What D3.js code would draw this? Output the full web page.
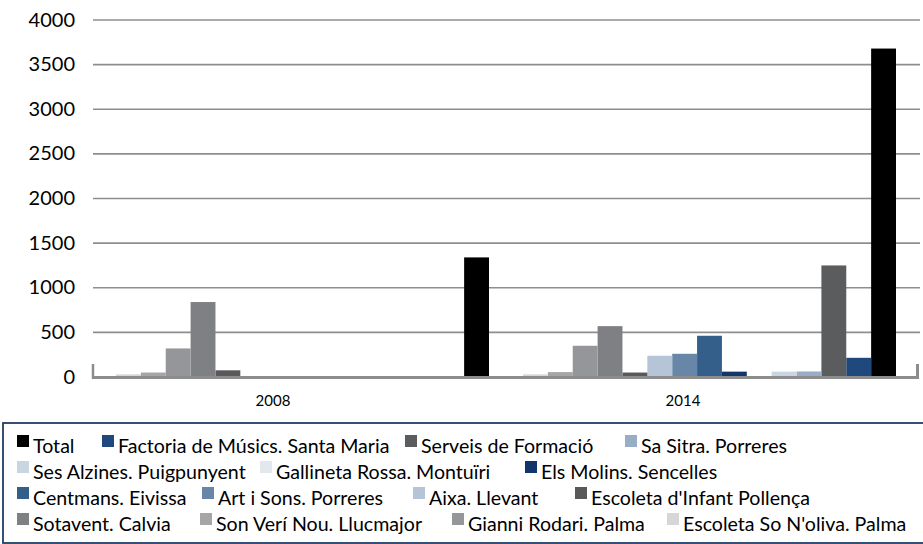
<!DOCTYPE html>
<html>
<head>
<meta charset="utf-8">
<script src="https://cdn.jsdelivr.net/npm/d3@7"></script>
<style>
  html, body { margin: 0; padding: 0; background: #fff; }
  svg { display: block; font-family: Lato, "Open Sans", sans-serif; }
</style>
</head>
<body>
<svg id="chart" width="923" height="544"></svg>
<script>
// ---- data ----
const categories = ["2008", "2014"];
const seriesNames = [
  "Total", "Factoria de Músics. Santa Maria", "Serveis de Formació", "Sa Sitra. Porreres",
  "Ses Alzines. Puigpunyent", "Gallineta Rossa. Montuïri", "Els Molins. Sencelles",
  "Centmans. Eivissa", "Art i Sons. Porreres", "Aixa. Llevant", "Escoleta d'Infant Pollença",
  "Sotavent. Calvia", "Son Verí Nou. Llucmajor", "Gianni Rodari. Palma", "Escoleta So N'oliva. Palma"
];
const values2008 = [1340, 0, 0, 0, 0, 0, 0, 0, 0, 0, 75, 840, 50, 320, 30];
const values2014 = [3680, 215, 1250, 62, 60, 0, 60, 462, 260, 238, 50, 570, 55, 350, 30];
const yTicks = [0, 500, 1000, 1500, 2000, 2500, 3000, 3500, 4000];
// left-to-right drawing order of the bars within each year
const barOrder = [
  "Escoleta So N'oliva. Palma", "Son Verí Nou. Llucmajor", "Gianni Rodari. Palma", "Sotavent. Calvia",
  "Escoleta d'Infant Pollença", "Aixa. Llevant", "Art i Sons. Porreres", "Centmans. Eivissa",
  "Els Molins. Sencelles", "Gallineta Rossa. Montuïri", "Ses Alzines. Puigpunyent",
  "Sa Sitra. Porreres", "Serveis de Formació", "Factoria de Músics. Santa Maria", "Total"
];

// ---- styles / layout ----
const colors = {
  "Total": "#000000",
  "Factoria de Músics. Santa Maria": "#1f497d",
  "Serveis de Formació": "#5b5c5e",
  "Sa Sitra. Porreres": "#98aec7",
  "Ses Alzines. Puigpunyent": "#c9d5e1",
  "Gallineta Rossa. Montuïri": "#e3e8ee",
  "Els Molins. Sencelles": "#12366a",
  "Centmans. Eivissa": "#345f8b",
  "Art i Sons. Porreres": "#6886a8",
  "Aixa. Llevant": "#b5c5d7",
  "Escoleta d'Infant Pollença": "#59595b",
  "Sotavent. Calvia": "#7f8083",
  "Son Verí Nou. Llucmajor": "#a6a6a8",
  "Gianni Rodari. Palma": "#959699",
  "Escoleta So N'oliva. Palma": "#d6d6d8"
};
// legend layout: [row, swatch x]
const legendLayout = [
  [0, 17], [0, 102], [0, 405], [0, 625],
  [1, 17], [1, 260], [1, 525],
  [2, 17], [2, 202], [2, 413], [2, 575],
  [3, 17], [3, 200], [3, 452], [3, 667]
];

const svg = d3.select("#chart");
const plotLeft = 93, plotRight = 920;

const y = d3.scaleLinear().domain([0, 4000]).range([377, 20]);
const x0 = d3.scaleBand().domain(categories).range([99, 913]);
const x1 = d3.scaleBand().domain(barOrder).range([17, x0.bandwidth() - 17]);
const xLabel = d3.scaleBand().domain(categories).range([68, 888]);

// gridlines
svg.append("g").selectAll("line").data(yTicks.filter(d => d > 0)).join("line")
  .attr("x1", plotLeft).attr("x2", plotRight)
  .attr("y1", d => y(d)).attr("y2", d => y(d))
  .attr("stroke", "#8e8e8e").attr("stroke-width", 1.6);

// y axis labels
const yAxis = d3.axisLeft(y).tickValues(yTicks).tickFormat(d3.format("d")).tickSize(0).tickPadding(0);
const yg = svg.append("g").attr("transform", "translate(75,0)").call(yAxis);
yg.select(".domain").remove();
yg.selectAll("text").attr("font-size", 20).attr("font-family", "Lato, sans-serif")
  .attr("fill", "#000").attr("dy", "0.3em");

// bars
const data = categories.map((c, ci) => ({
  cat: c,
  vals: seriesNames.map((s, si) => ({ s, v: (ci === 0 ? values2008 : values2014)[si] }))
}));
const groups = svg.append("g").selectAll("g").data(data).join("g")
  .attr("transform", d => `translate(${x0(d.cat)},0)`);
groups.selectAll("rect").data(d => d.vals.filter(e => e.v > 0)).join("rect")
  .attr("x", d => x1(d.s))
  .attr("width", x1.bandwidth())
  .attr("y", d => y(d.v))
  .attr("height", d => y(0) - y(d.v))
  .attr("fill", d => colors[d.s]);

// floor / walls
const floor = svg.append("g");
floor.append("line").attr("x1", plotLeft).attr("x2", 918).attr("y1", 377.5).attr("y2", 377.5)
  .attr("stroke", "#8c8c8c").attr("stroke-width", 3);
floor.append("line").attr("x1", plotLeft).attr("x2", plotLeft).attr("y1", 364).attr("y2", 379)
  .attr("stroke", "#8c8c8c").attr("stroke-width", 2.5);
floor.append("line").attr("x1", 917.5).attr("x2", 917.5).attr("y1", 364).attr("y2", 379)
  .attr("stroke", "#8c8c8c").attr("stroke-width", 3);

// category labels
const xAxis = d3.axisBottom(xLabel).tickSize(0).tickPadding(0);
const xg = svg.append("g").attr("transform", "translate(0,395)").call(xAxis);
xg.select(".domain").remove();
xg.selectAll("text").attr("font-size", 15).attr("font-family", "Lato, sans-serif")
  .attr("fill", "#000").attr("dy", "0.71em");

// legend
svg.append("rect").attr("x", 3).attr("y", 423).attr("width", 930).attr("height", 120)
  .attr("fill", "none").attr("stroke", "#1f3f66").attr("stroke-width", 1.8);
const leg = svg.append("g").selectAll("g").data(seriesNames).join("g")
  .attr("transform", (d, i) => `translate(${legendLayout[i][1]},${435 + 26 * legendLayout[i][0]})`);
leg.append("rect").attr("width", 12).attr("height", 12).attr("fill", d => colors[d]);
leg.append("text").attr("x", 16).attr("y", 18).text(d => d)
  .attr("font-size", 19.6).attr("font-family", "Lato, sans-serif").attr("fill", "#000");
</script>
</body>
</html>
